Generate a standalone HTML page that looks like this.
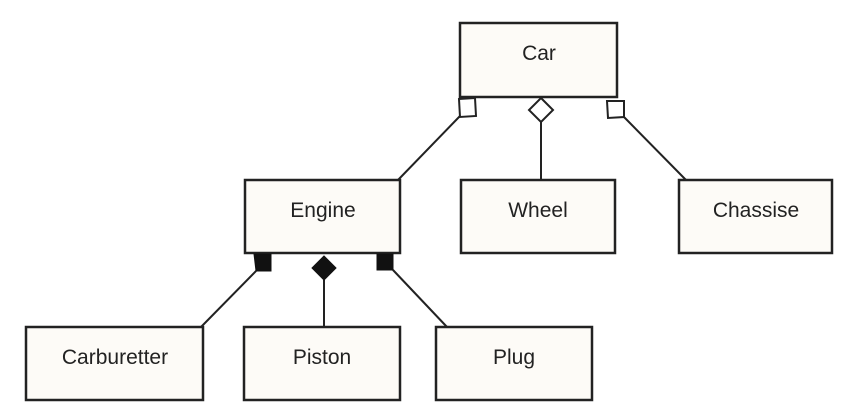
<!DOCTYPE html>
<html><head><style>
body{margin:0;background:#fff;}
svg{display:block}
text{font-family:"Liberation Sans",sans-serif;font-size:21px;fill:#222;text-anchor:middle}
</style></head><body>
<svg width="855" height="406" xmlns="http://www.w3.org/2000/svg">
<g fill="#fdfbf7" stroke="#222" stroke-width="2.5">
<rect x="460" y="23" width="157" height="74"/>
<rect x="245" y="180" width="155" height="73"/>
<rect x="461" y="180" width="154" height="73"/>
<rect x="679" y="180" width="153" height="73"/>
<rect x="26" y="327" width="177" height="73"/>
<rect x="244" y="327" width="156" height="73"/>
<rect x="436" y="327" width="156" height="73"/>
</g>
<g stroke="#222" stroke-width="2" fill="none">
<line x1="460" y1="116" x2="398" y2="180"/>
<line x1="541" y1="122" x2="541" y2="180"/>
<line x1="624" y1="117" x2="686" y2="180"/>
<line x1="256" y1="271" x2="201" y2="327"/>
<line x1="324" y1="280" x2="324" y2="327"/>
<line x1="393" y1="270" x2="447" y2="327"/>
</g>
<g stroke="#222" stroke-width="2" fill="#fff">
<polygon points="459,99 475,98 476,116 460,117"/>
<polygon points="541,98 553,110 541,122 529,110"/>
<polygon points="607,101 624,101 624,117 608,118"/>
</g>
<g fill="#111" stroke="#111" stroke-width="1">
<polygon points="254,254 271,254 271,271 256,271"/>
<polygon points="324,256 336,268 324,280 312,268"/>
<polygon points="377,254 393,254 393,270 377,270"/>
</g>
<text x="539" y="60">Car</text>
<text x="323" y="217">Engine</text>
<text x="538" y="217">Wheel</text>
<text x="756" y="217">Chassise</text>
<text x="115" y="364">Carburetter</text>
<text x="322" y="364">Piston</text>
<text x="514" y="364">Plug</text>
</svg>
</body></html>
